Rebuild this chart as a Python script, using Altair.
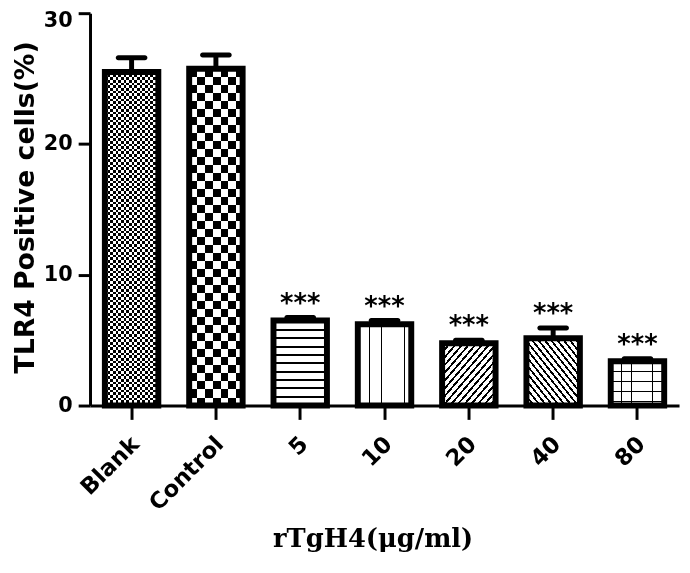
import altair as alt
import pandas as pd

# ---- data ----
categories = ["Blank", "Control", "5", "10", "20", "40", "80"]
means = [25.5, 25.75, 6.5, 6.22, 4.76, 5.14, 3.38]
errors = [1.1, 1.05, 0.23, 0.28, 0.24, 0.79, 0.19]
stars = ["", "", "***", "***", "***", "***", "***"]

df = pd.DataFrame({
    "cat": categories,
    "mean": means,
    "upper": [m + e for m, e in zip(means, errors)],
    "star": stars,
})

SANS = "DejaVu Sans"
SERIF = "DejaVu Serif"
BLACK = "#000000"
WHITE = "#ffffff"
CLEAR = "rgba(0,0,0,0)"


def stripes(direction, n, frac, on=BLACK, off=WHITE):
    """Sharp-edged linear gradient used as a hatch pattern."""
    coords = {
        "h": dict(x1=0, y1=0, x2=0, y2=1),
        "v": dict(x1=0, y1=0, x2=1, y2=0),
        "d": dict(x1=0, y1=0, x2=1, y2=1),   # '/' lines
        "b": dict(x1=0, y1=1, x2=1, y2=0),   # '\' lines
    }[direction]
    stops = []
    k = 0
    while k / n < 1:
        a = k / n
        b = min((k + frac) / n, 1.0)
        c = min((k + 1) / n, 1.0)
        stops += [{"offset": a, "color": on}, {"offset": b, "color": on},
                  {"offset": b, "color": off}, {"offset": c, "color": off}]
        k += 1
    g = {"gradient": "linear", "stops": stops}
    g.update(coords)
    return g


x_enc = alt.X(
    "cat:N", sort=categories, title="rTgH4(μg/ml)",
    scale=alt.Scale(paddingInner=0.366, paddingOuter=0.176),
    axis=alt.Axis(
        labelAngle=-45, labelAlign="right", labelBaseline="middle",
        labelPadding=21, labelOffset=4, tickSize=14,
        labelFont=SANS, labelFontWeight="bold", labelFontSize=23,
        titleFont=SERIF, titleFontWeight="bold", titleFontSize=26,
        titleX=286, titleY=143, titleAlign="center", titleBaseline="alphabetic",
        grid=False, domainColor=BLACK, domainWidth=3, tickColor=BLACK,
        tickWidth=3, labelColor=BLACK, titleColor=BLACK,
    ),
)

y_axis = alt.Axis(
    values=[0, 10, 20, 30], tickSize=12, labelPadding=6,
    labelFont=SANS, labelFontWeight="bold", labelFontSize=21,
    labelOffset={"condition": {"test": "datum.value == 30", "value": 7}, "value": 0},
    titleFont=SANS, titleFontWeight="bold", titleFontSize=27,
    titleAngle=270, titleX=-57, titleY=196, titleAlign="center",
    titleBaseline="alphabetic",
    grid=False, domainColor=BLACK, domainWidth=3, tickColor=BLACK,
    tickWidth=3, labelColor=BLACK, titleColor=BLACK,
)
y_scale = alt.Scale(domain=[0, 30], nice=False)
YT = "TLR4 Positive cells(%)"


def y_of(field):
    return alt.Y(f"{field}:Q", title=YT, scale=y_scale, axis=y_axis)


base = alt.Chart(df)


def bar_layer(cat, fill, blend=None):
    kw = dict(fill=fill, strokeWidth=0, opacity=1)
    if blend:
        kw["blend"] = blend
    return base.transform_filter(alt.datum.cat == cat).mark_bar(**kw).encode(
        x=x_enc, y=y_of("mean"))


layers = [
    # Blank: fine checkerboard (difference of two stripe sets)
    bar_layer("Blank", stripes("h", 63, 0.5)),
    bar_layer("Blank", stripes("v", 10, 0.5), blend="difference"),
    # Control: coarse checkerboard
    bar_layer("Control", stripes("h", 21, 0.5)),
    bar_layer("Control", stripes("v", 3.4, 0.5), blend="difference"),
    # 5: horizontal lines
    bar_layer("5", stripes("h", 10.2, 0.24)),
    # 10: vertical lines
    bar_layer("10", stripes("v", 4.6, 0.06)),
    # 20: '/' hatch
    bar_layer("20", stripes("d", 16, 0.36)),
    # 40: '\' hatch
    bar_layer("40", stripes("b", 17, 0.36)),
    # 80: grid
    bar_layer("80", stripes("h", 4.5, 0.09)),
    bar_layer("80", stripes("v", 5.2, 0.08, on=BLACK, off=CLEAR)),
]

outline = base.mark_bar(fillOpacity=0, stroke=BLACK, strokeWidth=6,
                        opacity=1).encode(x=x_enc, y=y_of("mean"))

err_rule = base.mark_rule(color=BLACK, strokeWidth=5, opacity=1).encode(
    x=x_enc, y=y_of("mean"), y2="upper:Q")

err_cap = base.mark_tick(color=BLACK, size=32, thickness=5, cornerRadius=2.5,
                         orient="horizontal", opacity=1).encode(
    x=x_enc, y=y_of("upper"))

star_text = base.mark_text(font=SANS, fontWeight="bold", fontSize=26,
                           baseline="alphabetic", dy=-6, color=BLACK).encode(
    x=x_enc, y=y_of("upper"), text="star:N")

chart = alt.layer(*layers, outline, err_rule, err_cap, star_text).properties(
    width=596, height=397,
    background="white",
    autosize=alt.AutoSizeParams(type="none"),
    padding={"left": 83, "top": 2, "right": 3, "bottom": 149},
).configure_view(stroke=None).configure_axis(
    domainColor=BLACK, domainWidth=3, tickColor=BLACK, tickWidth=3,
    labelColor=BLACK, titleColor=BLACK, grid=False,
)

chart.save("out.html", embed_options={"renderer": "svg", "actions": False})
